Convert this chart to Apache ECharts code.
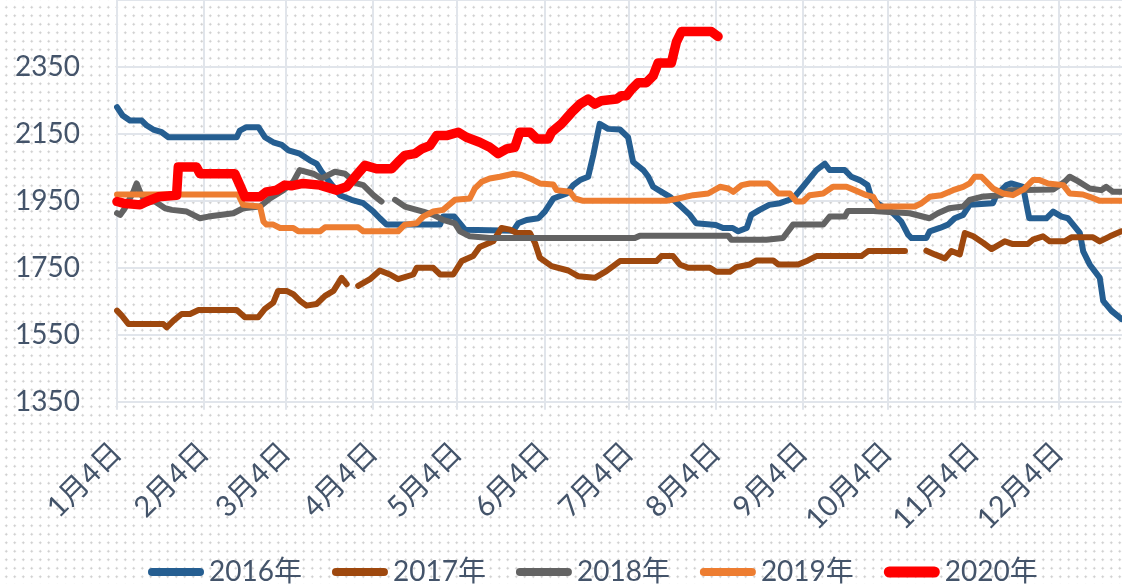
<!DOCTYPE html>
<html>
<head>
<meta charset="utf-8">
<script src="https://cdn.jsdelivr.net/npm/echarts@6/dist/echarts.min.js"></script>
<style>
  html, body { margin: 0; padding: 0; background: #fff; }
  #chart {
    width: 1122px;
    height: 584px;
    background-color: #fff;
    background-image: radial-gradient(circle, #cbcbcb 0.9px, rgba(255,255,255,0) 1.3px);
    background-size: 8.5px 8.5px;
    background-position: 2px 3px;
  }
</style>
</head>
<body>
<div id="chart"></div>
<script>
// x = days since 1月4日, y = price
const monthLabels = ["1月4日", "2月4日", "3月4日", "4月4日", "5月4日", "6月4日",
  "7月4日", "8月4日", "9月4日", "10月4日", "11月4日", "12月4日"];

const seriesNames = ["2016年", "2017年", "2018年", "2019年", "2020年"];

const data2016 = [
  [0, 2230], [2, 2205], [4.6, 2190], [8.8, 2190], [10.6, 2175], [12.9, 2163], [15.9, 2155],
  [18.3, 2140], [42.6, 2140], [43.7, 2160], [46, 2170], [50.3, 2170], [52.6, 2140], [55.6, 2125],
  [58.6, 2117], [61, 2101], [65, 2091], [68.6, 2071], [71, 2061], [72.8, 2037], [75.1, 2012],
  [79.3, 1967], [83.4, 1953], [87.6, 1943], [91.2, 1918], [93.5, 1898], [95.9, 1879], [114.9, 1879],
  [116, 1903], [120, 1903], [123.8, 1864], [141, 1861], [142.7, 1883], [145.7, 1893], [149.9, 1898],
  [152.2, 1918], [155.2, 1957], [160, 1972], [162.3, 1997], [164.7, 2012], [167.6, 2022],
  [169.4, 2086], [171.7, 2180], [174.7, 2165], [178.9, 2163], [181.8, 2140], [183.6, 2066],
  [187.2, 2042], [189, 2022], [190.7, 1992], [193.7, 1977], [196.7, 1962], [200, 1938],
  [203.8, 1908], [206, 1883], [213, 1878], [215.6, 1869], [219, 1869], [221, 1859], [224, 1869],
  [225.6, 1908], [228.6, 1923], [232, 1938], [235.8, 1943], [240.5, 1957], [244, 1992],
  [246.4, 2017], [248.8, 2042], [251.8, 2061], [253.5, 2042], [258.9, 2042], [261.2, 2022],
  [264.2, 2012], [267, 1997], [268.4, 1957], [271.3, 1938], [276, 1913], [279, 1888], [281.4, 1849],
  [282.6, 1839], [287.9, 1839], [289.1, 1859], [292.7, 1869], [295.6, 1879], [298, 1898],
  [301, 1908], [303.3, 1938], [311.6, 1943], [312.8, 1967], [316.4, 1997], [318.1, 2002],
  [322.3, 1992], [324.5, 1898], [330.6, 1898], [333, 1918], [336, 1903], [338.3, 1898],
  [342.5, 1854], [343.7, 1799], [346, 1760], [349.6, 1720], [350.8, 1651], [353.7, 1622],
  [357.3, 1597]
];

const data2017 = [
  [0, 1622], [1.7, 1607], [4.1, 1582], [16.5, 1582], [17.7, 1572], [20.1, 1592], [23, 1612],
  [26, 1612], [29, 1624], [42.6, 1624], [45.5, 1602], [50.2, 1602], [52.6, 1627], [55.6, 1646],
  [57.3, 1681], [60.3, 1681], [62.7, 1671], [65.1, 1651], [67.4, 1637], [71, 1642], [74, 1666],
  [77, 1681], [79.9, 1720], [81.7, 1701], [83.5, "-"], [85.8, 1696], [90, 1716], [93.5, 1742],
  [97.1, 1730], [100, 1716], [105.4, 1730], [106.6, 1750], [112.5, 1750], [114.9, 1730],
  [119.6, 1730], [122.6, 1770], [126.7, 1785], [129, 1812], [133.8, 1829], [136.8, 1869],
  [139.8, 1864], [142.2, 1854], [146.9, 1854], [148.7, 1824], [150.4, 1780], [154.6, 1755],
  [160.5, 1742], [164, 1725], [170, 1720], [174.1, 1740], [178.9, 1770], [191.9, 1770],
  [193.7, 1785], [197.8, 1785], [200.2, 1760], [203.2, 1750], [210.9, 1750], [213.2, 1738],
  [218, 1738], [220.3, 1752], [225.1, 1760], [227.5, 1772], [233.4, 1772], [235.2, 1760],
  [242.3, 1760], [245.8, 1772], [248.8, 1785], [264.8, 1785], [267.2, 1800], [280.3, 1800],
  [284, "-"], [287.9, 1801], [290.9, 1790], [294.5, 1778], [296.8, 1800], [299.8, 1790],
  [301.6, 1854], [304.6, 1844], [308.2, 1824], [311.1, 1806], [315.8, 1829], [318.7, 1821],
  [324, 1821], [325.8, 1834], [329.4, 1844], [331.8, 1829], [337.1, 1829], [339.5, 1841],
  [347.2, 1841], [349.6, 1829], [353.2, 1844], [357.3, 1859]
];

const data2018 = [
  [0, 1913], [1.1, 1908], [2.8, 1928], [5.8, 1977], [7, 2002], [8.2, 1977], [10, 1948],
  [13.5, 1948], [17.1, 1928], [19.5, 1923], [24.8, 1918], [29.5, 1898], [32.5, 1903],
  [41.4, 1913], [44.9, 1928], [50.9, 1933], [54.4, 1957], [59.2, 1982], [62.7, 2007], [65, 2042],
  [69.8, 2031], [72.8, 2017], [75.1, 2027], [77.5, 2037], [81.1, 2031], [85.2, 2002], [87.6, 1997],
  [91.2, 1967], [94.1, 1948], [96.5, "-"], [98.9, 1953], [102.4, 1933], [108.9, 1918],
  [112.5, 1908], [116, 1893], [120.2, 1883], [122, 1859], [125.5, 1844], [132.6, 1839],
  [184.2, 1839], [186, 1846], [217.4, 1846], [218.5, 1834], [231, 1834], [236.9, 1839],
  [240.5, 1879], [251.2, 1879], [253.5, 1903], [258.9, 1903], [260, 1920], [269, 1920],
  [282, 1913], [289, 1898], [292, 1913], [296, 1928], [301, 1933], [303.3, 1953], [307.5, 1962],
  [314.6, 1967], [317.6, 1982], [333, 1984], [337.1, 2007], [338.9, 2022], [341.8, 2009],
  [346, 1987], [350.1, 1982], [351.9, 1992], [354.3, 1977], [357.3, 1977]
];

const data2019 = [
  [0, 1969], [43.1, 1969], [44.9, 1938], [50.9, 1933], [52.1, 1888], [53.2, 1879], [55.6, 1879],
  [58, 1869], [62.7, 1869], [64.5, 1859], [72.2, 1859], [74, 1871], [85.8, 1871], [87.6, 1859],
  [100, 1859], [102.4, 1879], [106.6, 1883], [108.9, 1903], [112.5, 1918], [116, 1923],
  [120.2, 1953], [125.5, 1957], [127.3, 1987], [129.7, 2007], [132.6, 2017], [136.2, 2022],
  [141, 2031], [143.9, 2027], [146.9, 2017], [150.4, 2002], [155.2, 1999], [156.4, 1982],
  [161.1, 1977], [162.9, 1957], [165.8, 1950], [195.4, 1950], [199.6, 1957], [205, 1967],
  [210.3, 1972], [214.5, 1992], [217.4, 1987], [219.2, 1977], [222.2, 1997], [225.1, 2002],
  [231.6, 2002], [235.2, 1972], [239.3, 1972], [241.7, 1948], [244, 1948], [246.4, 1967],
  [251.2, 1972], [254.7, 1992], [259.5, 1992], [262.4, 1982], [266.6, 1967], [269, 1962],
  [270.8, 1933], [283.8, 1933], [286.2, 1943], [289.1, 1962], [293.2, 1967], [297.4, 1982],
  [301, 1992], [303.3, 2002], [305.1, 2022], [307.5, 2022], [311.6, 1987], [315.2, 1972],
  [318.7, 1967], [322.6, 1985], [325.8, 2012], [328.2, 2012], [331.2, 2002], [336.6, 1997],
  [338.9, 1972], [343.6, 1969], [346, 1962], [349.6, 1950], [357.3, 1950]
];

const data2020 = [
  [0, 1948], [2.2, 1943], [8.2, 1938], [10.6, 1948], [14.7, 1962], [21.2, 1967], [21.8, 2051],
  [28.3, 2051], [29.5, 2031], [41.9, 2031], [43.7, 1997], [45.5, 1962], [50.9, 1962],
  [53.2, 1977], [56.8, 1982], [59.7, 1997], [62, 1995], [66.2, 2002], [72.2, 1997], [78.1, 1982],
  [81.7, 1992], [85.2, 2027], [88.2, 2056], [92.3, 2046], [97.7, 2046], [100, 2066],
  [102.4, 2086], [106, 2091], [108.4, 2105], [111.3, 2115], [113.7, 2145], [117.2, 2145],
  [121.4, 2155], [124.3, 2140], [129, 2125], [132.6, 2110], [135.6, 2091], [138.6, 2105],
  [141.5, 2110], [143.3, 2155], [146.9, 2155], [149.3, 2135], [153.4, 2135], [154.6, 2155],
  [158.1, 2180], [161.7, 2214], [164.7, 2239], [167.6, 2254], [170, 2239], [172.3, 2249],
  [177.7, 2254], [179.4, 2264], [181.2, 2264], [183, 2283], [185.4, 2303], [188.3, 2303],
  [190.7, 2323], [192.5, 2362], [197.2, 2362], [199, 2425], [200.8, 2456], [211.4, 2456],
  [213.8, 2441]
];

(function () {
  const chart = echarts.init(document.getElementById("chart"), null, { renderer: "canvas" });

  const textColor = "#44546A";
  const gridColor = "#E1E5EB";
  const fontFamily = "Lato, 'Noto Sans CJK SC', sans-serif";

  // day offset of the 4th of each month from 1月4日 (leap-year calendar)
  const tickDays = monthLabels.map((_, i) =>
    (Date.UTC(2016, i, 4) - Date.UTC(2016, 0, 4)) / 86400000
  );

  const colors = ["#255E91", "#9E480E", "#636363", "#ED7D31", "#FF0000"];
  const widths = [6, 6, 6, 6, 9.5];
  const allData = [data2016, data2017, data2018, data2019, data2020];

  // rounded bar legend icons; thicker one for the 2020 line
  const thinIcon = "path://M4,0 H52 A4,4 0 0 1 52,8 H4 A4,4 0 0 1 4,0 Z";
  const thickIcon = "path://M5.5,0 H50.5 A5.5,5.5 0 0 1 50.5,11 H5.5 A5.5,5.5 0 0 1 5.5,0 Z";

  const series = seriesNames.map((name, i) => ({
    name,
    type: "line",
    data: allData[i],
    symbol: "none",
    smooth: false,
    connectNulls: false,
    animation: false,
    lineStyle: { color: colors[i], width: widths[i], cap: "round", join: "round" },
    itemStyle: { color: colors[i] },
  }));

  chart.setOption({
    backgroundColor: "transparent",
    animation: false,
    grid: { left: 117, right: 0, top: -3.3, bottom: 182.3 },
    legend: {
      left: 143,
      top: 553,
      itemWidth: 56,
      itemHeight: 11,
      itemGap: 30,
      textStyle: { color: textColor, fontSize: 28, fontFamily },
      data: seriesNames.map((name, i) => ({
        name,
        icon: i === 4 ? thickIcon : thinIcon,
        itemStyle: { color: colors[i] },
      })),
    },
    xAxis: {
      type: "value",
      min: 0,
      max: 357.5,
      axisLine: { show: true, lineStyle: { color: gridColor, width: 2 } },
      axisTick: {
        show: true,
        length: 8,
        customValues: tickDays,
        lineStyle: { color: gridColor, width: 2 },
      },
      axisLabel: {
        customValues: tickDays,
        rotate: 45,
        margin: 46,
        color: textColor,
        fontSize: 29,
        fontFamily,
        formatter: (v) => monthLabels[tickDays.indexOf(v)] || "",
      },
      splitLine: { show: true, lineStyle: { color: gridColor, width: 2 } },
    },
    yAxis: {
      type: "value",
      min: 1350,
      max: 2550,
      interval: 200,
      axisLine: { show: false },
      axisTick: { show: false },
      axisLabel: {
        margin: 37,
        color: textColor,
        fontSize: 28,
        fontFamily,
        showMaxLabel: false,
        formatter: (v) => String(v),
      },
      splitLine: { show: true, lineStyle: { color: gridColor, width: 2 } },
    },
    series,
  });

  window.addEventListener("resize", () => chart.resize());
})();
</script>
</body>
</html>
